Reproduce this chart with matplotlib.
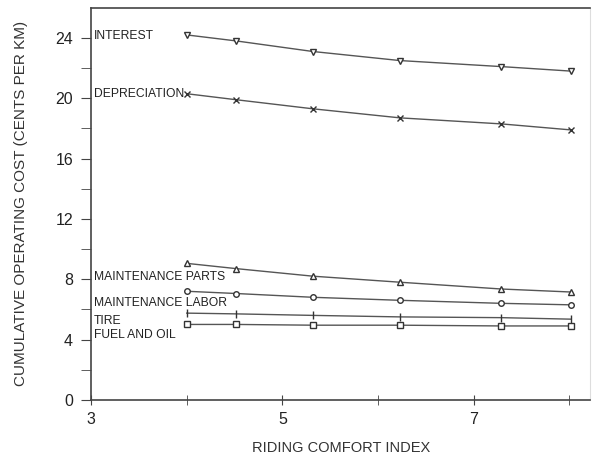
import matplotlib.pyplot as plt
from matplotlib.ticker import FixedLocator

plt.rcParams['font.family'] = ['Liberation Sans', 'DejaVu Sans']

# riding comfort index where each series was evaluated
rci = [4.0, 4.52, 5.32, 6.23, 7.29, 8.02]

interest = [24.2, 23.8, 23.1, 22.5, 22.1, 21.8]
depreciation = [20.3, 19.9, 19.3, 18.7, 18.3, 17.9]
maint_parts = [9.05, 8.7, 8.2, 7.8, 7.35, 7.15]
maint_labor = [7.2, 7.05, 6.8, 6.6, 6.4, 6.3]
tire = [5.75, 5.7, 5.6, 5.5, 5.45, 5.35]
fuel_oil = [5.0, 5.0, 4.95, 4.95, 4.9, 4.9]

series_names = ['INTEREST', 'DEPRECIATION', 'MAINTENANCE PARTS',
                'MAINTENANCE LABOR', 'TIRE', 'FUEL AND OIL']
label_y = [24.15, 20.3, 8.15, 6.45, 5.2, 4.3]

fig = plt.figure(figsize=(5.92, 4.58), dpi=100)
ax = fig.add_axes([0.154, 0.127, 0.843, 0.856])

lc = '#555555'
ax.plot(rci, interest, color=lc, lw=1, marker='v', ms=5, mfc='white', mec='#333333', mew=1)
ax.plot(rci, depreciation, color=lc, lw=1, marker='x', ms=5, mec='#333333', mew=1)
ax.plot(rci, maint_parts, color=lc, lw=1, marker='^', ms=5, mfc='white', mec='#333333', mew=1)
ax.plot(rci, maint_labor, color=lc, lw=1, marker='o', ms=4, mfc='white', mec='#333333', mew=1)
ax.plot(rci, tire, color=lc, lw=1, marker='|', ms=6, mec='#333333', mew=1)
ax.plot(rci, fuel_oil, color=lc, lw=1, marker='s', ms=5, mfc='white', mec='#333333', mew=1)

for name, yv in zip(series_names, label_y):
    ax.text(3.03, yv, name, fontsize=8.7, color='#222222', va='center', ha='left')

ax.set_xlim(3, 8.22)
ax.set_ylim(0, 26)
ax.xaxis.set_major_locator(FixedLocator([3, 5, 7]))
ax.xaxis.set_minor_locator(FixedLocator([4, 6, 8]))
ax.yaxis.set_major_locator(FixedLocator([0, 4, 8, 12, 16, 20, 24]))
ax.yaxis.set_minor_locator(FixedLocator([2, 6, 10, 14, 18, 22]))
ax.tick_params(which='both', color='#444444', labelsize=11.5, labelcolor='#222222')
ax.tick_params(axis='y', which='both', direction='out', length=7, pad=6)
ax.tick_params(axis='x', which='both', direction='inout', length=7, pad=5)

for s in ['left', 'bottom', 'top']:
    ax.spines[s].set_color('#444444')
    ax.spines[s].set_linewidth(1.2)
ax.spines['right'].set_color('#dddddd')

ax.set_xlabel('RIDING COMFORT INDEX', fontsize=10.5, color='#333333', labelpad=10)
ax.set_ylabel('CUMULATIVE OPERATING COST (CENTS PER KM)', fontsize=11, color='#333333', labelpad=20)

fig.savefig('out.png', dpi=100)
